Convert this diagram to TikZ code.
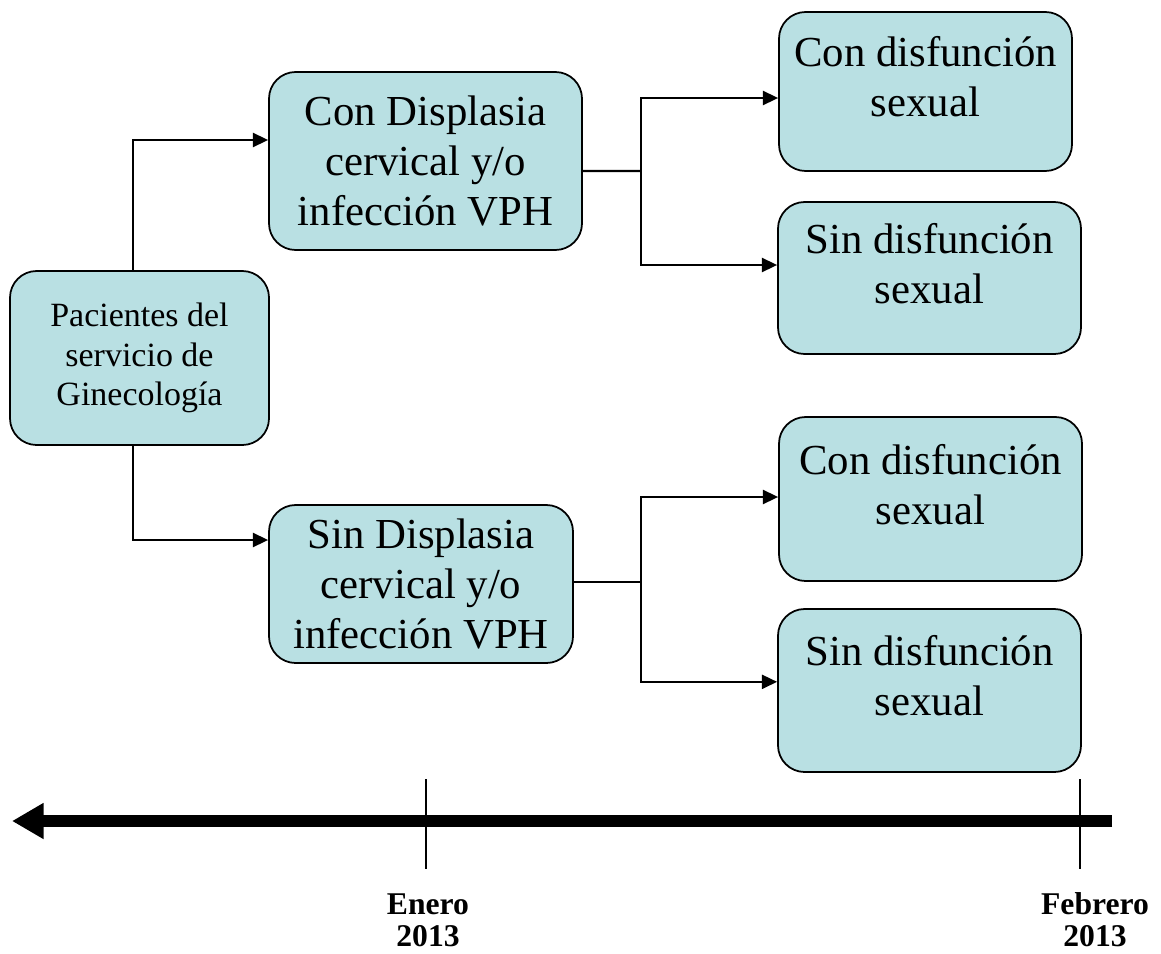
\documentclass[tikz,border=0pt]{standalone}
\usepackage{fontspec}
\setmainfont{Liberation Serif}
\usetikzlibrary{arrows.meta,positioning}
\definecolor{celeste}{HTML}{B9E0E3}

\begin{document}
\begin{tikzpicture}[x=0.03cm, y=-0.03cm,
  caja/.style={draw=black, line width=1.5pt, rounded corners=0.8cm, fill=celeste,
               align=center, inner sep=0pt, font=\fontsize{36.5}{42.5}\selectfont},
  chica/.style={caja, font=\fontsize{29}{34}\selectfont},
  flecha/.style={-{Triangle[length=13pt,width=12pt]}, line width=1.8pt},
  linea/.style={line width=1.8pt},
  fecha/.style={font=\bfseries\fontsize{27}{27.5}\selectfont, align=center}]
\useasboundingbox (0,0) rectangle (1161,953);
\node[chica, minimum width=7.77cm, minimum height=5.22cm] (pac) at (139.5,358) {Pacientes del\\servicio de\\Ginecología};
\node[caja, minimum width=9.39cm, minimum height=5.34cm] (con) at (425.5,161) {Con Displasia\\cervical y/o\\infección VPH};
\node[caja, minimum width=9.12cm, minimum height=4.74cm] (sin) at (421,584) {Sin Displasia\\cervical y/o\\infección VPH};
\node[caja, minimum width=8.79cm, minimum height=4.77cm] (conA) at (925.5,91.5) {Con disfunción\\sexual\\[-0.6cm]~};
\node[caja, minimum width=9.09cm, minimum height=4.56cm] (sinA) at (929.5,278) {Sin disfunción\\sexual\\[-0.6cm]~};
\node[caja, minimum width=9.09cm, minimum height=4.92cm] (conB) at (930.5,499) {Con disfunción\\sexual\\[-0.6cm]~};
\node[caja, minimum width=9.09cm, minimum height=4.89cm] (sinB) at (929.5,690.5) {Sin disfunción\\sexual\\[-0.6cm]~};
% ramas
\draw[flecha] ([xshift=-0.2cm]pac.north) |- ([yshift=0.63cm]con.west);
\draw[flecha] ([xshift=-0.2cm]pac.south) |- ([yshift=1.32cm]sin.west);
\coordinate (bifA) at (641,171);
\coordinate (bifB) at (641,582);
\draw[linea] ([yshift=-0.3cm]con.east) -- (bifA);
\draw[flecha] (bifA) |- ([yshift=-0.195cm]conA.west);
\draw[flecha] (bifA) |- ([yshift=0.39cm]sinA.west);
\draw[linea] ([yshift=0.06cm]sin.east) -- (bifB);
\draw[flecha] (bifB) |- ([yshift=0.06cm]conB.west);
\draw[flecha] (bifB) |- ([yshift=0.26cm]sinB.west);
% linea de tiempo
\coordinate (tder) at (1112,821);
\coordinate (tizq) at (12,821);
\draw[line width=10pt, -{Triangle[length=27pt,width=29pt]}] (tder) -- (tizq);
\draw[line width=1.3pt] (426,779) -- (426,869);
\draw[line width=1.3pt] (1080,779) -- (1080,869);
\node[fecha] (enero) at (428,920) {Enero\\2013};
\node[fecha] (febrero) at (1095,920) {Febrero\\2013};
\end{tikzpicture}
\end{document}
